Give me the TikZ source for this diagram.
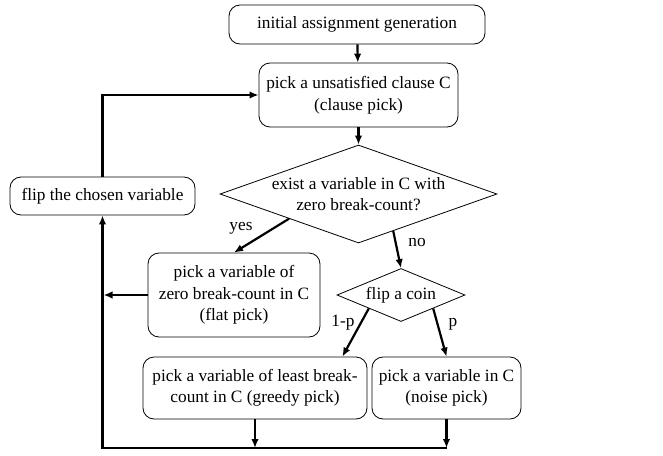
\documentclass[tikz,border=0pt]{standalone}
\usepackage{fontspec}
\setmainfont{Liberation Serif}
\usetikzlibrary{shapes.geometric,arrows.meta,calc}
\begin{document}
\begin{tikzpicture}[x=1pt,y=-1pt,
  font=\fontsize{17.3}{21.5}\selectfont,
  box/.style={draw, rounded corners=11pt, line width=0.8pt, align=center, inner sep=0pt},
  decision/.style={draw, diamond, line width=0.8pt, align=center, inner sep=0pt},
  flow/.style={line width=2.2pt, -{Latex[length=9pt,width=7.5pt]}},
  lbl/.style={inner sep=0pt}]
\useasboundingbox (0,0) rectangle (663,455);

% process steps and decisions
\node[box, minimum width=256pt, minimum height=39pt] (init) at (357,24.5) {initial assignment generation};
\node[box, minimum width=199pt, minimum height=64pt] (clause) at (358.5,95) {pick a unsatisfied clause C\\(clause pick)};
\node[decision, aspect=2.83, minimum width=277pt, minimum height=98pt] (dec) at (358.5,194) {exist a variable in C with\\zero break-count?};
\node[box, minimum width=185pt, minimum height=38pt] (flipv) at (102.5,196) {flip the chosen variable};
\node[box, minimum width=172pt, minimum height=84pt] (flat) at (234,295) {pick a variable of\\zero break-count in C\\(flat pick)};
\node[decision, aspect=2.42, minimum width=128pt, minimum height=53pt] (coin) at (401,295) {flip a coin};
\node[box, minimum width=224pt, minimum height=62pt] (greedy) at (255,388) {pick a variable of least break-\\count in C (greedy pick)};
\node[box, minimum width=149pt, minimum height=62pt] (noise) at (446.5,388) {pick a variable in C\\(noise pick)};

% corners of the return loop
\coordinate (bl) at (102.5,448);
\coordinate (br) at (noise.south |- bl);

% branch labels
\node[lbl] (yes) at (241,228) {yes};
\node[lbl] (no) at (417,243) {no};
\node[lbl] (onep) at (343,323) {1-p};
\node[lbl] (p) at (453,324) {p};

% connectors
\draw[flow] (init) -- (clause);
\draw[flow] (clause) -- (dec);
\draw[flow] (dec.south west) -- (flat.north);
\draw[flow] ($(dec.south)!0.25!(dec.east)$) -- (coin.north);
\draw[flow] (coin.south west) -- ($(greedy.north east)+(-25,0)$);
\draw[flow] (coin.south east) -- (noise.north);
\draw[flow, shorten >=1pt] (flat.west) -- (flat.west -| bl);
\draw[flow] (greedy.south) -- (greedy.south |- bl);
\draw[flow] (noise.south) -- (br);
\draw[flow, line join=miter] (br) -- (bl) -- (flipv.south);
\draw[flow, line join=miter] (flipv.north) |- (clause.west);
\end{tikzpicture}
\end{document}
